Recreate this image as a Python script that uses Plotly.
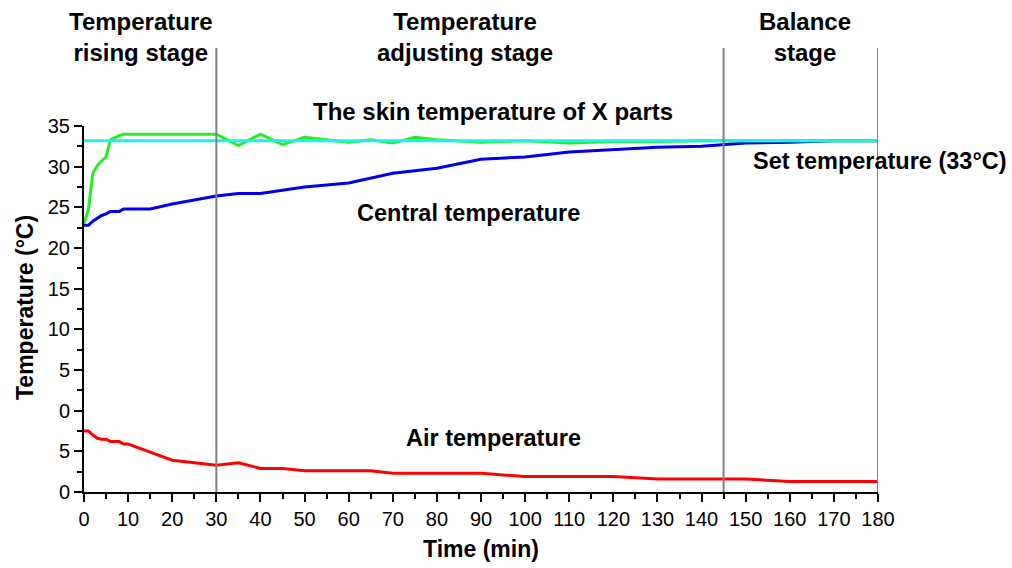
import plotly.graph_objects as go

# ---- data ----
time = [0, 1, 2, 3, 4, 5, 6, 7, 8, 9, 10, 15, 20, 30, 35, 40, 45, 50, 60, 65, 70, 75,
        80, 90, 100, 110, 120, 130, 140, 150, 160, 170, 180]
skin_temp = [23.0, 24.7, 29.2, 30.1, 30.7, 31.2, 33.3, 33.6, 33.8, 34.0, 34.0, 34.0, 34.0,
             34.0, 32.6, 34.0, 32.7, 33.6, 33.0, 33.3, 32.9, 33.6, 33.3, 33.0, 33.2, 32.9,
             33.1, 33.1, 33.2, 33.2, 33.2, 33.2, 33.2]
central_temp = [22.8, 22.8, 23.3, 23.7, 24.0, 24.2, 24.5, 24.5, 24.5, 24.8, 24.8, 24.8, 25.4,
                26.4, 26.7, 26.7, 27.1, 27.5, 28.0, 28.6, 29.2, 29.5, 29.8, 30.9, 31.2, 31.8,
                32.1, 32.4, 32.5, 32.9, 33.0, 33.2, 33.2]
air_temp = [7.5, 7.5, 7.0, 6.6, 6.5, 6.5, 6.2, 6.2, 6.2, 5.9, 5.9, 4.9, 3.9, 3.3, 3.6, 2.9,
            2.9, 2.6, 2.6, 2.6, 2.3, 2.3, 2.3, 2.3, 1.9, 1.9, 1.9, 1.6, 1.6, 1.6, 1.3, 1.3, 1.3]
set_time = [0, 180]
set_temp = [33.2, 33.2]

stage_bounds = [30, 145, 180]
y_tickvals = [-10, -5, 0, 5, 10, 15, 20, 25, 30, 35]
y_ticktext = ["0", "5", "0", "5", "10", "15", "20", "25", "30", "35"]
x_tickvals = list(range(0, 181, 10))

FONT = "Liberation Sans, Arial, sans-serif"

fig = go.Figure()
fig.add_trace(go.Scatter(x=time, y=air_temp, mode="lines", yaxis="y2",
                         line=dict(color="#ff0000", width=3), showlegend=False))
fig.add_trace(go.Scatter(x=time, y=central_temp, mode="lines",
                         line=dict(color="#0000ee", width=3), showlegend=False))
fig.add_trace(go.Scatter(x=time, y=skin_temp, mode="lines",
                         line=dict(color="#22ee22", width=3), showlegend=False))
fig.add_trace(go.Scatter(x=set_time, y=set_temp, mode="lines",
                         line=dict(color="#22eeee", width=3), showlegend=False))

for b in stage_bounds:
    fig.add_shape(type="line", xref="x", yref="paper", x0=b, x1=b, y0=0, y1=1.213,
                  line=dict(color="#808080", width=2), layer="above")

# text labels, positioned in pixel space of the plot (converted to paper fractions)
def px2paper(px, py):
    return (px - 84) / 794, (492 - py) / 366

labels = [
    (493, 112, "The skin temperature of X parts", 24),
    (468, 213, "Central temperature", 23.5),
    (880, 161, "Set temperature (33\u00b0C)", 23.5),
    (494, 438, "Air temperature", 23.5),
]
for px, py, txt, sz in labels:
    xx, yy = px2paper(px, py)
    fig.add_annotation(x=xx, y=yy, xref="paper", yref="paper", text="<b>" + txt + "</b>",
                       showarrow=False, font=dict(family=FONT, size=sz, color="black"),
                       xanchor="center", yanchor="middle")

stages = [(141, ["Temperature", "rising stage"]), (465, ["Temperature", "adjusting stage"]),
          (805, ["Balance", "stage"])]
for px, lines in stages:
    xx, yy = px2paper(px, 37)
    fig.add_annotation(x=xx, y=yy, xref="paper", yref="paper",
                       text="<br>".join("<b>" + s + "</b>" for s in lines),
                       showarrow=False, xanchor="center", yanchor="middle",
                       font=dict(family=FONT, size=24, color="black"))

xx, yy = px2paper(481, 549)
fig.add_annotation(x=xx, y=yy, xref="paper", yref="paper",
                   text="<b>Time (min)</b>", showarrow=False, xanchor="center", yanchor="middle",
                   font=dict(family=FONT, size=23, color="black"))
xx, yy = px2paper(25, 308)
fig.add_annotation(x=xx, y=yy, xref="paper", yref="paper",
                   text="<b>Temperature (\u00b0C)</b>", showarrow=False, textangle=-90,
                   xanchor="center", yanchor="middle",
                   font=dict(family=FONT, size=23, color="black"))

fig.update_layout(
    width=1012, height=568,
    margin=dict(l=84, r=134, t=126, b=76),
    paper_bgcolor="white", plot_bgcolor="white",
    font=dict(family=FONT, size=20, color="black"),
    xaxis=dict(range=[0, 180], tickvals=x_tickvals, ticks="outside", ticklen=8, tickwidth=2,
               tickcolor="black", showline=True, linewidth=2, linecolor="black",
               showgrid=False, zeroline=False,
               minor=dict(dtick=5, tick0=0, ticks="outside", ticklen=5, tickwidth=2,
                          tickcolor="black", showgrid=False),
               tickfont=dict(family=FONT, size=20)),
    yaxis=dict(range=[-10, 35], tickvals=y_tickvals, ticktext=y_ticktext, ticks="outside",
               ticklen=8, tickwidth=2, tickcolor="black", showline=True, linewidth=2,
               linecolor="black", showgrid=False, zeroline=False,
               minor=dict(tickvals=[v + 2.5 for v in y_tickvals[:-1]], ticks="outside",
                          ticklen=5, tickwidth=2, tickcolor="black", showgrid=False),
               tickfont=dict(family=FONT, size=20)),
    yaxis2=dict(range=[0, 45], overlaying="y", visible=False, autorange=False),
)

fig.write_html("out.html", config={"displayModeBar": False},
               post_script="document.body.style.margin='0px';")
